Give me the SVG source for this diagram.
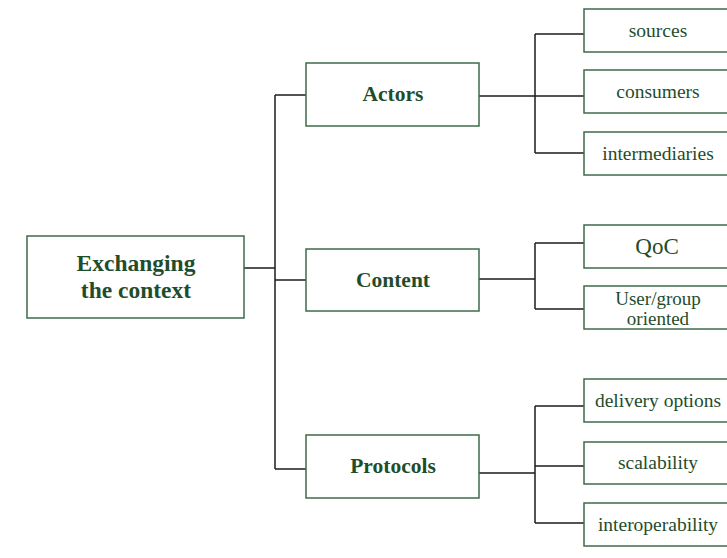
<svg xmlns="http://www.w3.org/2000/svg" width="727" height="558" viewBox="0 0 727 558" font-family="'Liberation Serif', 'DejaVu Serif', serif">
  <style>
    .box { fill: #ffffff; stroke: #3c6b48; stroke-width: 1.5; }
    .wire { fill: none; stroke: #1c1c1c; stroke-width: 1.5; }
    .lbl { font-family: 'Liberation Serif', 'DejaVu Serif', serif; fill: #1f4d2c; text-anchor: middle; }
    .root { font-size: 23.5px; font-weight: bold; }
    .mid { font-size: 21.5px; font-weight: bold; }
    .leaf { font-size: 19.5px; }
    .two { font-size: 19px; }
  </style>
  <rect width="727" height="558" fill="#ffffff"/>

  <!-- connectors -->
  <g id="connectors">
    <path class="wire" d="M244,268 H275 M275,95 V469 M275,95 H306 M275,280 H306 M275,469 H306"/>
    <path class="wire" d="M479,96 H535 M535,34 V153 M535,34 H584 M535,96 H584 M535,153 H584"/>
    <path class="wire" d="M479,279 H535 M535,243 V309 M535,243 H584 M535,309 H584"/>
    <path class="wire" d="M479,473 H535 M535,406 V523 M535,406 H584 M535,466 H584 M535,523 H584"/>
  </g>

  <!-- root -->
  <g id="root">
    <rect class="box" x="27" y="236" width="217" height="82"/>
    <text class="lbl root" x="136" y="271">Exchanging</text>
    <text class="lbl root" x="136" y="298">the context</text>
  </g>

  <!-- first level -->
  <g id="actors">
    <rect class="box" x="306" y="63" width="173" height="63"/>
    <text class="lbl mid" x="393" y="101">Actors</text>
  </g>
  <g id="content">
    <rect class="box" x="306" y="249" width="173" height="62"/>
    <text class="lbl mid" x="393" y="287">Content</text>
  </g>
  <g id="protocols">
    <rect class="box" x="306" y="435" width="173" height="63"/>
    <text class="lbl mid" x="393" y="473">Protocols</text>
  </g>

  <!-- second level: actors -->
  <g id="sources">
    <rect class="box" x="584" y="9" width="150" height="43"/>
    <text class="lbl leaf" x="658" y="37">sources</text>
  </g>
  <g id="consumers">
    <rect class="box" x="584" y="70" width="150" height="43"/>
    <text class="lbl leaf" x="658" y="98">consumers</text>
  </g>
  <g id="intermediaries">
    <rect class="box" x="584" y="132" width="150" height="43"/>
    <text class="lbl leaf" x="658" y="160">intermediaries</text>
  </g>

  <!-- second level: content -->
  <g id="qoc">
    <rect class="box" x="584" y="225" width="150" height="43"/>
    <text class="lbl" x="657" y="254" style="font-size:23px">QoC</text>
  </g>
  <g id="user-group">
    <rect class="box" x="584" y="286" width="150" height="43"/>
    <text class="lbl two" x="658" y="305">User/group</text>
    <text class="lbl two" x="658" y="325">oriented</text>
  </g>

  <!-- second level: protocols -->
  <g id="delivery">
    <rect class="box" x="584" y="379" width="150" height="43"/>
    <text class="lbl leaf" x="658" y="407">delivery options</text>
  </g>
  <g id="scalability">
    <rect class="box" x="584" y="442" width="150" height="42"/>
    <text class="lbl leaf" x="658" y="469">scalability</text>
  </g>
  <g id="interoperability">
    <rect class="box" x="584" y="503" width="150" height="43"/>
    <text class="lbl leaf" x="658" y="531">interoperability</text>
  </g>
</svg>
